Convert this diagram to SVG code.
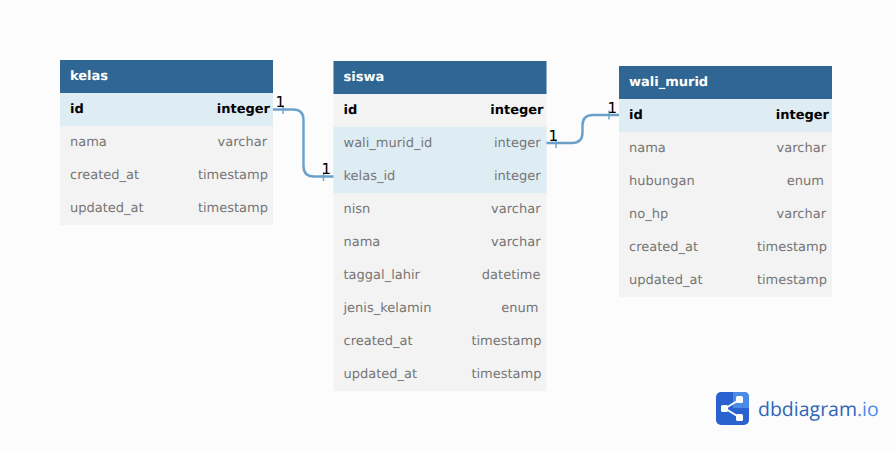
<svg xmlns="http://www.w3.org/2000/svg" width="896" height="451" viewBox="0 0 896 451">
<defs>
<style>
text{font-family:"DejaVu Sans",sans-serif;font-size:13px;fill:#767676;text-rendering:geometricPrecision}
.t{font-weight:700;fill:#fff}
.k{font-weight:700;fill:#000}
.e{text-anchor:end}
.head{fill:#2f6694}
.body{fill:#f3f3f3}
.hi{fill:#deecf4}
.c{fill:none;stroke:#6ba0ca;stroke-width:2.4}
.tick{fill:none;stroke:#6ba0ca;stroke-width:1.4}
.n{fill:#000;font-size:15px}
</style>
</defs>
<rect width="896" height="451" fill="#fcfcfc"/>
<g id="kelas">
<rect class="body" x="60" y="60" width="213" height="165"/>
<rect class="hi" x="60" y="93" width="213" height="33"/>
<rect class="head" x="60" y="60" width="213" height="33"/>
<text class="t" x="70" y="80">kelas</text>
<text class="k" x="70" y="113">id</text><text class="k e" x="270" y="113">integer</text>
<text x="70" y="146">nama</text><text class="e" x="267" y="146">varchar</text>
<text x="70" y="179">created_at</text><text class="e" x="268" y="179">timestamp</text>
<text x="70" y="212">updated_at</text><text class="e" x="268" y="212">timestamp</text>
</g>
<g id="siswa">
<rect class="body" x="333.500" y="61" width="213" height="330"/>
<rect class="hi" x="333.500" y="127" width="213" height="66"/>
<rect class="head" x="333.500" y="61" width="213" height="33"/>
<text class="t" x="343.500" y="81">siswa</text>
<text class="k" x="343.500" y="114">id</text><text class="k e" x="543.500" y="114">integer</text>
<text x="343.500" y="147">wali_murid_id</text><text class="e" x="540.500" y="147">integer</text>
<text x="343.500" y="180">kelas_id</text><text class="e" x="540.500" y="180">integer</text>
<text x="343.500" y="213">nisn</text><text class="e" x="540.500" y="213">varchar</text>
<text x="343.500" y="246">nama</text><text class="e" x="540.500" y="246">varchar</text>
<text x="343.500" y="279">taggal_lahir</text><text class="e" x="540.500" y="279">datetime</text>
<text x="343.500" y="312">jenis_kelamin</text><text class="e" x="538.500" y="312">enum</text>
<text x="343.500" y="345">created_at</text><text class="e" x="541.500" y="345">timestamp</text>
<text x="343.500" y="378">updated_at</text><text class="e" x="541.500" y="378">timestamp</text>
</g>
<g id="wali_murid">
<rect class="body" x="619" y="66" width="213" height="231"/>
<rect class="hi" x="619" y="99" width="213" height="33"/>
<rect class="head" x="619" y="66" width="213" height="33"/>
<text class="t" x="629" y="86">wali_murid</text>
<text class="k" x="629" y="119">id</text><text class="k e" x="829" y="119">integer</text>
<text x="629" y="152">nama</text><text class="e" x="826" y="152">varchar</text>
<text x="629" y="185">hubungan</text><text class="e" x="824" y="185">enum</text>
<text x="629" y="218">no_hp</text><text class="e" x="826" y="218">varchar</text>
<text x="629" y="251">created_at</text><text class="e" x="827" y="251">timestamp</text>
<text x="629" y="284">updated_at</text><text class="e" x="827" y="284">timestamp</text>
</g>
<g id="connectors">
<path class="c" d="M273 109.500H293Q303.500 109.500 303.500 120V166Q303.500 176.500 314 176.500H333.500"/>
<path class="c" d="M546.500 143H572Q582.500 143 582.500 132.500V125.500Q582.500 115 593 115H619"/>
<path class="tick" d="M283 105V114M323.500 172V181M556 139V148M609 110.500V119.500"/>
<text class="n" x="275.500" y="107">1</text>
<text class="n" x="321.500" y="174">1</text>
<text class="n" x="548.500" y="141">1</text>
<text class="n" x="607.500" y="113">1</text>
</g>
<g id="logo">
<rect x="716" y="392" width="33" height="33" rx="5" fill="#2a63d0"/>
<path d="M733 392H744Q749 392 749 397V408H733Z" fill="#4a8be8"/>
<path d="M725 408.500L739 400M725 408.500L739 417" stroke="#fff" stroke-width="2" fill="none"/>
<rect x="721" y="405" width="7" height="7" rx="1.500" fill="#fff"/>
<rect x="736" y="396" width="7" height="7" rx="1.500" fill="#fff"/>
<rect x="736" y="414" width="7" height="7" rx="1.500" fill="#fff"/>
<text x="758" y="416" style="font-family:'Open Sans',sans-serif;font-size:19.500px;fill:#2f65b8">dbdiagram<tspan fill="#4a8be8">.io</tspan></text>
</g>
</svg>
